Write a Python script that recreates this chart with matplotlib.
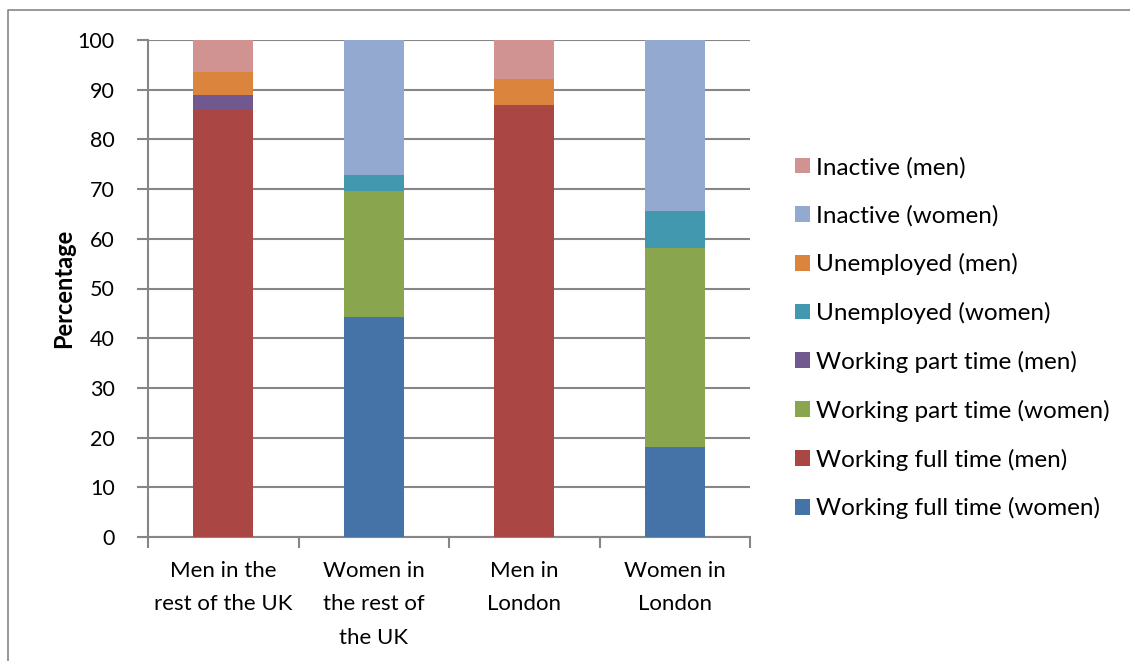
import matplotlib
matplotlib.use("Agg")
import matplotlib.pyplot as plt
from matplotlib.lines import Line2D

plt.rcParams['font.family'] = ['Lato', 'DejaVu Sans']

categories = ["Men in the\nrest of the UK", "Women in\nthe rest of\nthe UK", "Men in\nLondon", "Women in\nLondon"]

# stacked from bottom to top
series = [
    ("Working full time (women)", [0, 44.3, 0, 18.1], "#4572A7"),
    ("Working full time (men)", [85.9, 0, 86.9, 0], "#AA4643"),
    ("Working part time (women)", [0, 25.3, 0, 40.0], "#89A54E"),
    ("Working part time (men)", [3.0, 0, 0, 0], "#71588F"),
    ("Unemployed (women)", [0, 3.2, 0, 7.4], "#4198AF"),
    ("Unemployed (men)", [4.7, 0, 5.3, 0], "#DB843D"),
    ("Inactive (women)", [0, 27.2, 0, 34.5], "#93A9CF"),
    ("Inactive (men)", [6.4, 0, 7.8, 0], "#D19392"),
]

fig = plt.figure(figsize=(11.3, 6.61), dpi=100)
# chart-area border (left and top edges visible)
fig.lines.append(Line2D([8 / 1130, 8 / 1130, 1.0], [0.0, 1 - 10 / 661, 1 - 10 / 661],
                        transform=fig.transFigure, color="#868686", linewidth=1.2))
ax = fig.add_axes([148 / 1130, 1 - 537 / 661, (750 - 148) / 1130, (537 - 40) / 661])

x = range(len(categories))
bottom = [0] * len(categories)
handles = []
for name, vals, col in series:
    b = ax.bar(x, vals, width=0.4, bottom=bottom, color=col, label=name, zorder=3)
    handles.append(b)
    bottom = [p + v for p, v in zip(bottom, vals)]

ax.set_xlim(-0.5, 3.5)
ax.set_ylim(0, 100)
ax.set_yticks(range(0, 101, 10))
ax.yaxis.grid(True, color="#868686", linewidth=1.5, zorder=0)
ax.set_axisbelow(True)

ax.set_xticks([-0.5, 0.5, 1.5, 2.5, 3.5])
ax.set_xticklabels([])
ax.set_xticks(list(x), minor=True)
ax.set_xticklabels(categories, minor=True, fontsize=16, linespacing=1.86, va="top")
ax.tick_params(axis="x", which="minor", length=0, pad=17)
ax.tick_params(axis="x", which="major", length=8, width=1.5, color="#868686")
ax.tick_params(axis="y", length=8, width=1.5, color="#868686", labelsize=15.5, pad=16)

for s in ["top", "right"]:
    ax.spines[s].set_visible(False)
for s in ["left", "bottom"]:
    ax.spines[s].set_color("#868686")
    ax.spines[s].set_linewidth(1.5)

ax.set_ylabel("Percentage", fontsize=17, fontweight="bold", labelpad=2)

fig.legend(handles[::-1], [s[0] for s in series][::-1], loc="center left",
           bbox_to_anchor=(773 / 1130, 1 - 338 / 661), frameon=False, fontsize=17.5,
           handlelength=0.62, handleheight=0.62, handletextpad=0.25, labelspacing=1.1)

fig.savefig("out.png", dpi=100)
